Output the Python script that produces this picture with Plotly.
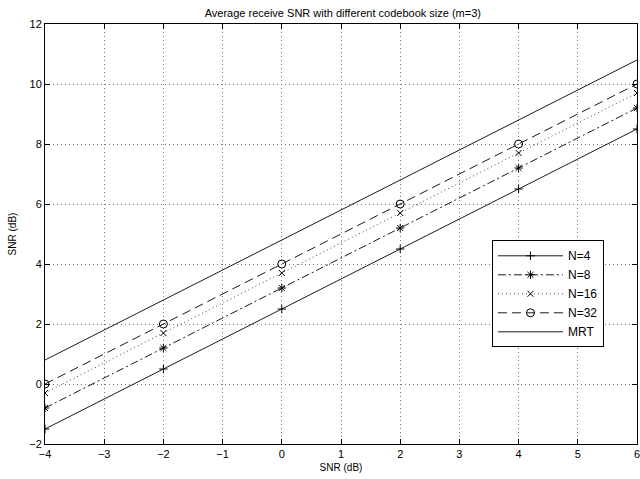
import plotly.graph_objects as go

snr_x = [-4, -2, 0, 2, 4, 6]
n4 = [-1.5, 0.5, 2.5, 4.5, 6.5, 8.5]
n8 = [-0.8, 1.2, 3.2, 5.2, 7.2, 9.2]
n16 = [-0.3, 1.7, 3.7, 5.7, 7.7, 9.7]
n32 = [0.0, 2.0, 4.0, 6.0, 8.0, 10.0]
mrt = [0.8, 2.8, 4.8, 6.8, 8.8, 10.8]

series = [
    ("N=4", n4, "solid", "cross-thin", 6, "black"),
    ("N=8", n8, "8px,3px,2px,3px", "asterisk", 7, "black"),
    ("N=16", n16, "1px,3px", "x-thin", 6, "#333333"),
    ("N=32", n32, "9px,5px", "circle-open", 8, "black"),
]

fig = go.Figure()
for name, ys, dash, sym, sz, col in series:
    fig.add_trace(go.Scatter(
        x=snr_x, y=ys, name=name, mode="lines+markers", legendgroup=name,
        line=dict(color=col, width=0.9, dash=dash),
        marker=dict(symbol=sym, size=sz, color="black",
                    line=dict(color="black", width=1)),
    ))
fig.add_trace(go.Scatter(
    x=snr_x, y=mrt, name="MRT", mode="lines", legendgroup="MRT",
    line=dict(color="black", width=0.9),
))

axis_common = dict(
    showline=True, linecolor="black", linewidth=1, mirror="ticks",
    ticks="inside", ticklen=5, tickcolor="black", tickwidth=1,
    showgrid=True, gridcolor="#777777", griddash="1px,3px", gridwidth=1,
    zeroline=False, tickfont=dict(size=11, color="black"),
    ticklabeloverflow="allow",
)

fig.update_layout(
    width=640, height=479,
    margin=dict(l=45, r=0, t=24, b=35),
    paper_bgcolor="white", plot_bgcolor="white",
    font=dict(family="Liberation Sans, Arial, sans-serif", color="black"),
    title=dict(text="Average receive SNR with different codebook size (m=3)",
               x=0.5357, xanchor="center", y=0.973, yanchor="middle",
               font=dict(size=11)),
    xaxis=dict(range=[-4, 6], dtick=1, tick0=-4,
               title=dict(text="SNR (dB)", font=dict(size=10), standoff=4),
               **axis_common),
    yaxis=dict(range=[-2, 12], dtick=2, tick0=-2,
               title=dict(text="SNR (dB)", font=dict(size=10), standoff=10),
               **axis_common),
    legend=dict(x=0.755, y=0.485, xanchor="left", yanchor="top",
                bordercolor="black", borderwidth=1, bgcolor="white",
                font=dict(size=12), itemwidth=65, tracegroupgap=0),
    showlegend=True,
)

fig.write_html("out.html")
